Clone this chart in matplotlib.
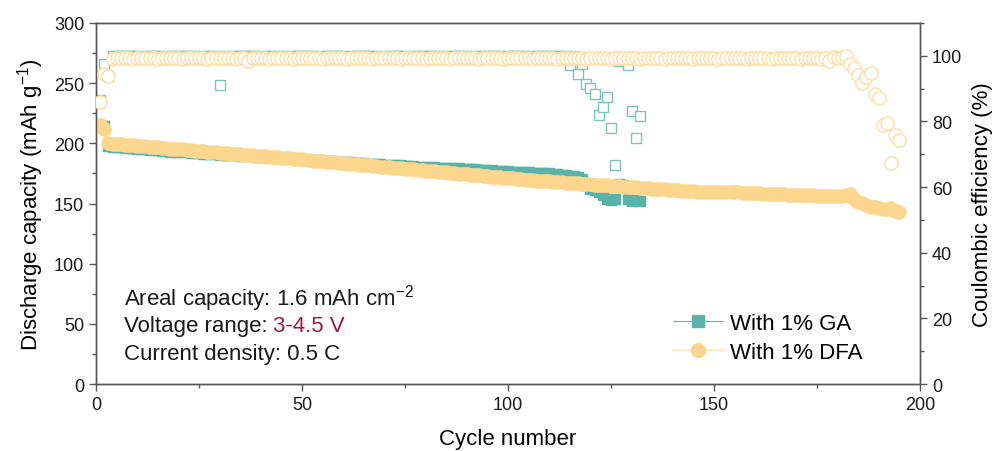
import numpy as np
import matplotlib
matplotlib.use("Agg")
import matplotlib.pyplot as plt
from matplotlib.lines import Line2D
from matplotlib.ticker import MultipleLocator

plt.rcParams["font.family"] = ["Liberation Sans", "DejaVu Sans"]
plt.rcParams["mathtext.fontset"] = "custom"
plt.rcParams["mathtext.rm"] = "Liberation Sans"
plt.rcParams["mathtext.it"] = "Liberation Sans:italic"
plt.rcParams["mathtext.bf"] = "Liberation Sans:bold"

# === Discharge capacity (mAh/g), one value per cycle ===
dfa_capacity = [
    215.0, 212.3, 200.0, 199.7, 199.4, 199.1, 198.9, 198.6, 198.3, 198.0,
    197.7, 197.4, 197.2, 196.9, 196.6, 196.3, 196.0, 195.7, 195.4, 195.2,
    194.9, 194.6, 194.3, 194.0, 193.7, 193.4, 193.2, 192.9, 192.6, 192.3,
    192.0, 191.7, 191.5, 191.2, 190.9, 190.6, 190.3, 190.0, 189.7, 189.5,
    189.2, 188.9, 188.6, 188.3, 188.0, 187.7, 187.5, 187.2, 186.9, 186.6,
    186.3, 186.0, 185.7, 185.4, 185.0, 184.7, 184.4, 184.1, 183.8, 183.5,
    183.2, 182.9, 182.6, 182.3, 182.0, 181.6, 181.3, 181.0, 180.7, 180.4,
    180.1, 179.8, 179.5, 179.2, 178.9, 178.6, 178.3, 177.9, 177.6, 177.3,
    177.0, 176.7, 176.4, 176.1, 175.8, 175.5, 175.2, 174.9, 174.6, 174.2,
    173.9, 173.6, 173.3, 173.0, 172.7, 172.4, 172.1, 171.8, 171.5, 171.2,
    170.9, 170.6, 170.3, 169.9, 169.6, 169.3, 169.0, 168.8, 168.5, 168.3,
    168.1, 167.8, 167.6, 167.4, 167.1, 166.9, 166.7, 166.4, 166.2, 165.9,
    165.7, 165.5, 165.2, 165.0, 164.8, 164.5, 164.3, 164.1, 163.8, 163.6,
    163.4, 163.1, 162.9, 162.7, 162.4, 162.2, 161.9, 161.7, 161.5, 161.2,
    161.0, 160.8, 160.5, 160.3, 160.1, 159.8, 159.6, 159.6, 159.5, 159.5,
    159.4, 159.4, 159.3, 159.3, 159.2, 159.2, 159.0, 158.9, 158.7, 158.6,
    158.4, 158.3, 158.1, 158.0, 157.8, 157.7, 157.6, 157.4, 157.3, 157.1,
    157.0, 156.9, 156.8, 156.7, 156.6, 156.5, 156.4, 156.3, 156.2, 156.2,
    156.4, 157.5, 157.8, 154.0, 151.5, 150.3, 149.0, 147.5, 147.0, 146.6,
    145.8, 145.5, 146.0, 144.2, 143.3,
]

ga_capacity = [
    215.5, 214.0, 197.5, 197.2, 196.9, 196.6, 196.4, 196.1, 195.8, 195.5,
    195.2, 194.9, 194.7, 194.4, 194.1, 193.8, 193.5, 193.2, 192.9, 192.7,
    192.6, 192.4, 192.1, 191.9, 191.6, 191.5, 191.3, 191.1, 190.9, 190.7,
    190.5, 190.3, 190.1, 189.9, 189.8, 189.6, 189.4, 189.2, 189.0, 188.9,
    188.7, 188.5, 188.3, 188.1, 187.8, 187.6, 187.4, 187.2, 186.9, 186.6,
    186.4, 186.2, 186.0, 185.8, 185.5, 185.3, 185.1, 184.9, 184.7, 184.5,
    184.3, 184.1, 183.9, 183.7, 183.5, 183.2, 183.0, 182.8, 182.6, 182.4,
    182.2, 182.0, 181.8, 181.6, 181.4, 181.2, 181.0, 180.7, 180.5, 180.3,
    180.2, 180.0, 179.8, 179.7, 179.5, 179.4, 179.2, 179.1, 178.9, 178.7,
    178.5, 178.3, 178.1, 177.9, 177.7, 177.5, 177.3, 177.2, 177.0, 176.7,
    176.6, 176.4, 176.2, 176.0, 175.8, 175.6, 175.6, 175.5, 175.4, 175.3,
    174.9, 174.5, 174.0, 173.5, 173.1, 172.6, 172.0, 170.5, 165.0, 162.0,
    161.0, 159.5, 157.5, 154.0, 153.0, 153.5, 166.0, 165.0, 153.5, 152.5,
    153.0, 152.0,
]

# === Coulombic efficiency (%), one value per cycle ===
dfa_ce = [
    86.0, 94.6, 93.7, 99.1, 99.2, 99.2, 99.3, 99.2, 99.1, 99.2,
    99.2, 99.3, 99.2, 99.2, 99.1, 99.2, 99.3, 99.2, 99.2, 99.2,
    99.1, 99.2, 99.2, 99.3, 99.2, 99.2, 99.1, 99.2, 99.2, 99.3,
    99.2, 99.2, 99.2, 99.1, 99.2, 99.2, 98.3, 99.2, 99.2, 99.3,
    99.2, 99.1, 99.2, 99.2, 99.3, 99.2, 99.2, 99.1, 99.2, 99.2,
    99.3, 99.2, 99.2, 99.2, 99.1, 99.2, 99.3, 99.2, 99.2, 99.2,
    99.1, 99.2, 99.2, 99.3, 99.2, 99.2, 99.1, 99.2, 99.2, 99.3,
    99.2, 99.2, 99.2, 99.1, 99.2, 99.2, 99.3, 99.2, 99.2, 99.1,
    99.2, 99.2, 99.3, 99.2, 99.2, 99.1, 99.2, 99.2, 99.3, 99.2,
    99.2, 99.2, 99.1, 99.2, 99.2, 99.3, 99.2, 99.2, 99.1, 99.2,
    99.2, 99.3, 99.2, 99.2, 99.2, 99.1, 99.2, 99.2, 99.3, 99.2,
    99.2, 99.1, 99.2, 99.2, 99.3, 99.2, 99.2, 99.2, 99.1, 99.2,
    99.2, 99.3, 99.2, 99.2, 99.1, 99.2, 99.2, 99.3, 99.2, 99.2,
    99.2, 99.1, 99.2, 99.2, 99.3, 99.2, 99.2, 99.1, 99.2, 99.2,
    99.3, 99.2, 99.2, 99.2, 99.1, 99.2, 99.2, 99.3, 99.2, 99.2,
    99.1, 99.2, 99.2, 99.3, 99.2, 99.2, 99.2, 99.1, 99.2, 99.2,
    99.3, 99.2, 99.2, 99.1, 99.2, 99.2, 99.3, 99.2, 99.2, 99.2,
    99.1, 99.2, 99.2, 99.3, 99.2, 99.1, 99.2, 98.4, 99.7, 99.4,
    99.5, 100.0, 97.6, 96.3, 94.1, 91.7, 93.5, 94.8, 88.3, 87.0,
    78.8, 79.5, 67.4, 75.8, 74.2,
]

ga_ce = [
    86.5, 97.6, 93.7, 99.8, 99.9, 99.8, 99.8, 99.9, 99.8, 99.8,
    99.7, 99.8, 99.9, 99.8, 99.8, 99.8, 99.7, 99.8, 99.9, 99.8,
    99.8, 99.8, 99.9, 99.8, 99.7, 99.8, 99.8, 99.9, 99.8, 91.2,
    99.8, 99.7, 99.8, 99.9, 99.8, 99.8, 99.8, 99.9, 99.8, 99.7,
    99.8, 99.8, 99.9, 99.8, 99.8, 99.7, 99.8, 99.9, 99.8, 99.8,
    99.8, 99.9, 99.8, 99.7, 99.8, 99.8, 99.9, 99.8, 99.8, 99.8,
    99.7, 99.8, 99.9, 99.8, 99.8, 99.8, 99.9, 99.8, 99.7, 99.8,
    99.8, 99.9, 99.8, 99.8, 99.8, 99.7, 99.8, 99.9, 99.8, 99.8,
    99.8, 99.9, 99.8, 99.7, 99.8, 99.8, 99.9, 99.8, 99.8, 99.8,
    99.7, 99.8, 99.9, 99.8, 99.8, 99.8, 99.9, 99.8, 99.7, 99.8,
    99.8, 99.9, 99.8, 99.8, 99.8, 99.7, 99.8, 99.9, 99.8, 99.8,
    99.8, 99.9, 99.8, 99.8, 97.1, 99.8, 94.4, 97.6, 91.5, 90.2,
    88.5, 82.1, 84.4, 87.5, 78.0, 66.6, 98.3, 99.7, 97.3, 83.1,
    75.1, 81.7,
]

labels = ["With 1% GA", "With 1% DFA"]

teal = "#5AB3A9"
teal_open = "#7CC4BB"
sand = "#FDD68E"
sand_open = "#FFDDA0"
spine_col = "#555555"

dfa_cycles = np.arange(1, len(dfa_capacity) + 1)
ga_cycles = np.arange(1, len(ga_capacity) + 1)

fig = plt.figure(figsize=(9.94, 4.52), dpi=100)
ax = fig.add_axes([0.0966, 0.148, 0.829, 0.799])
ax2 = ax.twinx()

# capacity (left axis)
ax.plot(ga_cycles, ga_capacity, ls="none", marker="s", ms=7.5,
        mfc=teal, mec=teal, zorder=2)
ax.plot(dfa_cycles, dfa_capacity, ls="none", marker="o", ms=9.5,
        mfc=sand, mec=sand, zorder=3)

# coulombic efficiency (right axis), hollow markers with white fill
ax2.plot(np.arange(1, len(ga_ce) + 1), ga_ce, ls="none", marker="s", ms=7.5,
         mfc="white", mec=teal_open, mew=1.0, zorder=2)
ax2.plot(np.arange(1, len(dfa_ce) + 1), dfa_ce, ls="none", marker="o", ms=9.5,
         mfc="white", mec=sand_open, mew=1.0, zorder=3)

ax.set_xlim(0, 200)
ax.set_ylim(0, 300)
ax2.set_ylim(0, 110)

ax.xaxis.set_major_locator(MultipleLocator(50))
ax.xaxis.set_minor_locator(MultipleLocator(25))
ax.yaxis.set_major_locator(MultipleLocator(50))
ax.yaxis.set_minor_locator(MultipleLocator(25))
ax2.yaxis.set_major_locator(MultipleLocator(20))
ax2.yaxis.set_minor_locator(MultipleLocator(10))

for a in (ax, ax2):
    for s in a.spines.values():
        s.set_color(spine_col)
        s.set_linewidth(1.0)
    a.tick_params(which="major", direction="out", length=5, width=1,
                  color=spine_col, labelsize=13, labelcolor="#1a1a1a")
    a.tick_params(which="minor", direction="out", length=3, width=1,
                  color=spine_col)

ax.set_xlabel("Cycle number", fontsize=16, labelpad=11)
ax.set_ylabel("Discharge capacity (mAh g$^{-1}$)", fontsize=16, labelpad=6)
ax2.set_ylabel("Coulombic efficiency (%)", fontsize=16, labelpad=7)

# test conditions
txt_kw = dict(transform=ax.transAxes, fontsize=16, va="center", ha="left",
              color="#1a1a1a")
ax.text(0.034, 0.241, "Areal capacity: 1.6 mAh cm$^{-2}$", **txt_kw)
t_volt = ax.text(0.034, 0.161, "Voltage range:", **txt_kw)
ax.annotate("3-4.5 V", xy=(1, 0), xycoords=t_volt, xytext=(4, 0),
            textcoords="offset points", va="bottom", ha="left",
            fontsize=16, color="#A0174A")
ax.text(0.034, 0.086, "Current density: 0.5 C", **txt_kw)

handles = [
    Line2D([], [], color=teal, lw=0.8, marker="s", ms=8, mfc=teal, mec=teal),
    Line2D([], [], color="#FFE4B3", lw=1.0, marker="o", ms=10, mfc=sand, mec=sand),
]
ax2.legend(handles, labels, loc="upper left", bbox_to_anchor=(0.70, 0.198),
           frameon=False, fontsize=16, handlelength=2.25, handletextpad=0.3,
           labelspacing=0.38, borderpad=0, borderaxespad=0)

fig.savefig("out.png", dpi=100)
